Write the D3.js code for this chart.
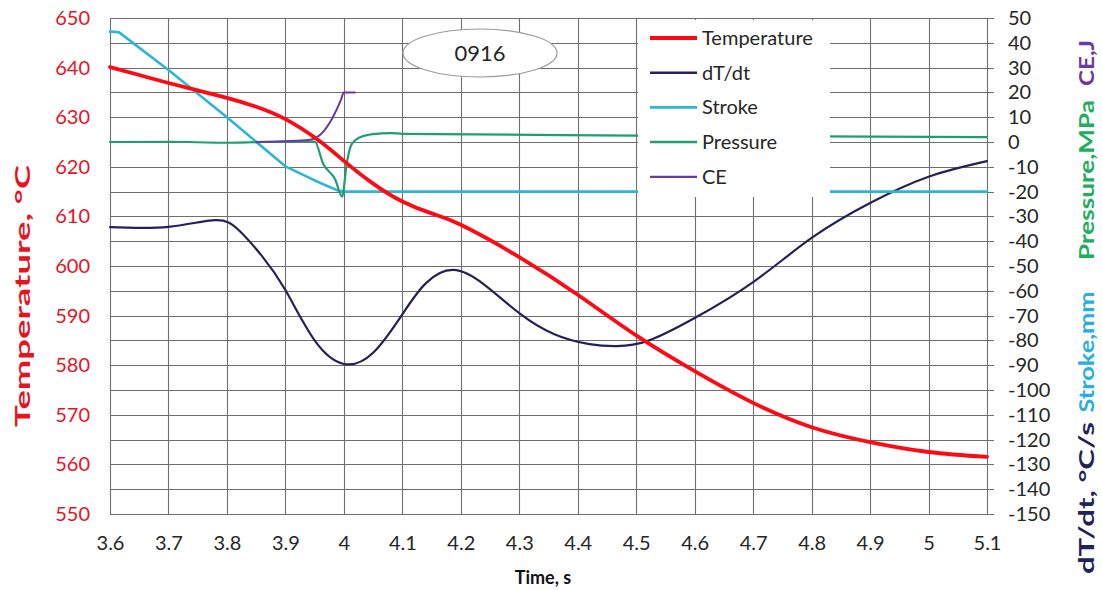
<!DOCTYPE html>
<html>
<head>
<meta charset="utf-8">
<script src="https://cdn.jsdelivr.net/npm/d3@7"></script>
<style>
  html, body { margin: 0; padding: 0; background: #fff; }
  svg { display: block; font-family: Lato, "Liberation Sans", sans-serif; }
</style>
</head>
<body>
<svg id="chart" width="1102" height="590"></svg>
<script>
// ---- data ----
const tempTime   = [3.6, 3.65, 3.7, 3.75, 3.8, 3.85, 3.9, 3.956, 4.0, 4.05, 4.1, 4.15, 4.2, 4.3, 4.4, 4.5, 4.6, 4.7, 4.8, 4.9, 5.0, 5.1];
const tempValues = [640.1, 638.5, 636.9, 635.4, 633.9, 632.1, 629.6, 625.4, 621.2, 616.6, 613.0, 610.6, 608.3, 601.8, 594.2, 586.0, 578.8, 572.4, 567.5, 564.5, 562.5, 561.5];

const rateTime   = [3.6, 3.7, 3.78, 3.82, 3.86, 3.9, 3.95, 4.0, 4.05, 4.1, 4.14, 4.187, 4.24, 4.3, 4.36, 4.42, 4.467, 4.52, 4.6, 4.7, 4.8, 4.9, 5.0, 5.1];
const rateValues = [-34.3, -34.2, -31.5, -35.5, -46, -59.7, -80, -89.5, -85, -69.5, -57, -51.6, -57.5, -69, -77.5, -81.5, -82.3, -80.2, -71, -56.5, -38.7, -24.6, -14, -7.7];

const strokeTime   = [3.6, 3.615, 3.7, 3.8, 3.9, 3.95, 3.99, 4.0, 4.5, 5.1];
const strokeValues = [44.5, 44.3, 29, 10, -9.8, -15.5, -19.6, -20, -20, -20];

const pressureTime   = [3.6, 3.7, 3.8, 3.9, 3.95, 3.965, 3.985, 3.997, 4.005, 4.013, 4.025, 4.05, 4.08, 4.1, 4.5, 5.1];
const pressureValues = [0, 0.1, -0.3, 0.2, 0.2, -9, -15, -22, -8.5, -1, 1.6, 3.2, 3.6, 3.3, 2.6, 2.0];

const ceTime   = [3.85, 3.9, 3.94, 3.96, 3.98, 3.995, 4.0, 4.019];
const ceValues = [0, 0.3, 0.8, 3, 9.5, 17, 20, 20];

const xTicks     = [3.6, 3.7, 3.8, 3.9, 4.0, 4.1, 4.2, 4.3, 4.4, 4.5, 4.6, 4.7, 4.8, 4.9, 5.0, 5.1];
const leftTicks  = [550, 560, 570, 580, 590, 600, 610, 620, 630, 640, 650];
const rightTicks = [-150, -140, -130, -120, -110, -100, -90, -80, -70, -60, -50, -40, -30, -20, -10, 0, 10, 20, 30, 40, 50];

const seriesNames  = ["Temperature", "dT/dt", "Stroke", "Pressure", "CE"];
const seriesColors = ["#ff0a14", "#232258", "#2cb6d4", "#1f9e72", "#6b3aa0"];
const seriesWidths = [3.8, 2.2, 2.6, 2.2, 2.0];

// ---- layout ----
const plot = { left: 110, top: 18, right: 987, bottom: 514 };
const svg = d3.select("#chart");

const x  = d3.scaleLinear().domain([3.6, 5.1]).range([plot.left, plot.right]);
const yL = d3.scaleLinear().domain([550, 650]).range([plot.bottom, plot.top]);
const yR = d3.scaleLinear().domain([-150, 50]).range([plot.bottom, plot.top]);

const gridColor = "#6f6f6f";

// horizontal grid every 5 °C (= every 10 on the secondary axis)
const hGrid = d3.range(550, 650.1, 5);
svg.append("g").selectAll("line").data(hGrid).join("line")
  .attr("x1", plot.left).attr("x2", plot.right + 7)
  .attr("y1", d => Math.round(yL(d)) + 0.5).attr("y2", d => Math.round(yL(d)) + 0.5)
  .attr("stroke", gridColor).attr("stroke-width", 1.1);

// vertical grid
svg.append("g").selectAll("line").data(xTicks).join("line")
  .attr("x1", d => Math.round(x(d)) + 0.5).attr("x2", d => Math.round(x(d)) + 0.5)
  .attr("y1", plot.top).attr("y2", plot.bottom)
  .attr("stroke", gridColor).attr("stroke-width", 1.1);

// x axis labels
const fmtX = d => d3.format("~g")(d);
const xAxis = d3.axisBottom(x).tickValues(xTicks).tickFormat(fmtX).tickSize(0).tickPadding(22);
const gx = svg.append("g").attr("transform", `translate(0,${plot.bottom})`).call(xAxis);
gx.select(".domain").remove();
gx.selectAll("text").attr("font-size", 20).attr("fill", "#262626").attr("font-family", "Lato");

// left axis labels
const leftAxis = d3.axisLeft(yL).tickValues(leftTicks).tickSize(0).tickPadding(20);
const gl = svg.append("g").attr("transform", `translate(${plot.left},0)`).call(leftAxis);
gl.select(".domain").remove();
gl.selectAll("text").attr("font-size", 20).attr("fill", "#e8131f").attr("font-family", "Lato");

// right axis labels
const rightAxis = d3.axisRight(yR).tickValues(rightTicks).tickSize(0).tickPadding(21)
  .tickFormat(d => d < 0 ? "-" + Math.abs(d) : String(d));
const gr = svg.append("g").attr("transform", `translate(${plot.right},0)`).call(rightAxis);
gr.select(".domain").remove();
gr.selectAll("text").attr("font-size", 20).attr("fill", "#262626").attr("font-family", "Lato");

// ---- series ----
function drawSeries(times, values, yScale, i, curve) {
  const pts = times.map((t, k) => [t, values[k]]);
  const line = d3.line().x(d => x(d[0])).y(d => yScale(d[1])).curve(curve);
  svg.append("path").datum(pts)
    .attr("d", line)
    .attr("fill", "none")
    .attr("stroke", seriesColors[i])
    .attr("stroke-width", seriesWidths[i])
    .attr("stroke-linejoin", "round")
    .attr("stroke-linecap", "round");
}
drawSeries(rateTime, rateValues, yR, 1, d3.curveNatural);
drawSeries(strokeTime, strokeValues, yR, 2, d3.curveLinear);
drawSeries(pressureTime, pressureValues, yR, 3, d3.curveMonotoneX);
drawSeries(ceTime, ceValues, yR, 4, d3.curveMonotoneX);
drawSeries(tempTime, tempValues, yL, 0, d3.curveNatural);

// ---- legend ----
const legend = svg.append("g");
legend.append("rect").attr("x", 638).attr("y", 20).attr("width", 192).attr("height", 177).attr("fill", "#fff");
const legendRows = legend.selectAll("g").data(seriesNames).join("g")
  .attr("transform", (d, i) => `translate(650,${38 + i * 34.7})`);
legendRows.append("line")
  .attr("x1", 0).attr("x2", 47).attr("y1", 0).attr("y2", 0)
  .attr("stroke", (d, i) => seriesColors[i])
  .attr("stroke-width", (d, i) => seriesWidths[i] + (i === 0 ? 0.2 : 0.3));
legendRows.append("text")
  .attr("x", 52).attr("y", 0).attr("dy", "0.35em")
  .attr("font-size", 20).attr("fill", "#262626")
  .text(d => d);

// ---- sample label ----
const tag = svg.append("g").attr("transform", "translate(480,53)");
tag.append("ellipse").attr("rx", 77).attr("ry", 24)
  .attr("fill", "#fff").attr("stroke", "#9a9a9a").attr("stroke-width", 1.2);
tag.append("text").attr("text-anchor", "middle").attr("dy", "0.36em")
  .attr("font-size", 22).attr("fill", "#262626").text("0916");

// ---- axis titles ----
svg.append("text")
  .attr("transform", "translate(23,296) rotate(-90)")
  .attr("text-anchor", "middle").attr("dy", "0.35em")
  .attr("font-size", 20).attr("font-weight", "bold").attr("fill", "#e8131f")
  .attr("textLength", 262).attr("lengthAdjust", "spacingAndGlyphs")
  .text("Temperature, °C");

svg.append("text")
  .attr("x", 543).attr("y", 578)
  .attr("text-anchor", "middle").attr("dy", "0.35em")
  .attr("font-size", 18).attr("font-weight", "bold").attr("fill", "#111")
  .text("Time, s");

const rightTitles = [
  { text: "CE,J",          color: "#6b3aa0", cy: 63,  len: 46 },
  { text: "Pressure,MPa",  color: "#1fae5c", cy: 180, len: 160 },
  { text: "Stroke,mm",     color: "#2aaee0", cy: 352, len: 121 },
  { text: "dT/dt, °C/s",   color: "#232258", cy: 498, len: 152 }
];
svg.append("g").selectAll("text").data(rightTitles).join("text")
  .attr("transform", d => `translate(1087,${d.cy}) rotate(-90)`)
  .attr("text-anchor", "middle").attr("dy", "0.35em")
  .attr("font-size", 20).attr("font-weight", "bold")
  .attr("fill", d => d.color)
  .attr("textLength", d => d.len).attr("lengthAdjust", "spacingAndGlyphs")
  .text(d => d.text);
</script>
</body>
</html>
